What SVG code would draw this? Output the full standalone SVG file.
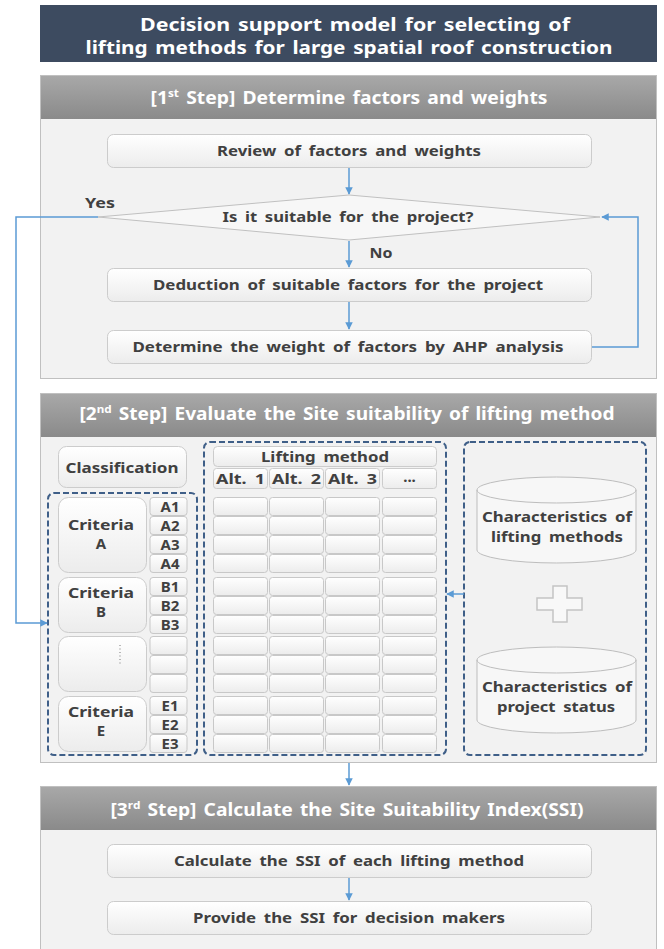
<svg xmlns="http://www.w3.org/2000/svg" xmlns:xlink="http://www.w3.org/1999/xlink" width="664" height="949" viewBox="0 0 664 949">
<defs>
  <linearGradient id="hdr" x1="0" y1="0" x2="0" y2="1">
    <stop offset="0" stop-color="#a8a8a8"/>
    <stop offset="1" stop-color="#8a8a8a"/>
  </linearGradient>
  <linearGradient id="box" x1="0" y1="0" x2="0" y2="1">
    <stop offset="0" stop-color="#ffffff"/>
    <stop offset="1" stop-color="#ececec"/>
  </linearGradient>
  <marker id="arr" viewBox="0 0 10 10" refX="9" refY="5" markerWidth="5" markerHeight="5" orient="auto">
    <path d="M0,0 L10,5 L0,10 z" fill="#5b9bd5"/>
  </marker>
  <rect id="c" width="54" height="18" rx="3" fill="url(#box)" stroke="#c8c8c8" stroke-width="1"/>
  <rect id="s" width="37" height="18" rx="3" fill="url(#box)" stroke="#c8c8c8" stroke-width="1"/>
</defs>
<style>
  text { font-family: "Noto Sans", "Open Sans", sans-serif; font-weight: bold; }
  .t { font-size: 15px; fill: #404040; text-anchor: middle; word-spacing: 3px; }
  .h { font-size: 18px; fill: #ffffff; text-anchor: middle; word-spacing: 2px; }
  .panel { fill: #f2f2f2; stroke: #c0c0c0; stroke-width: 1; }
  .hdr { fill: url(#hdr); }
  .bx { fill: url(#box); stroke: #cccccc; stroke-width: 1; }
  .dash { fill: none; stroke: #3f5f88; stroke-width: 2; stroke-dasharray: 6 3; }
  .conn { fill: none; stroke: #5b9bd5; stroke-width: 1.5; }
  .cyl { fill: #f7f7f7; stroke: #bdbdbd; stroke-width: 1; }
</style>
<rect width="664" height="949" fill="#ffffff"/>

<g id="title">
  <rect x="40" y="5" width="617" height="57" fill="#3d4b60"/>
  <text class="h" font-size="19.5" word-spacing="3"><tspan x="355" y="31" textLength="430" lengthAdjust="spacingAndGlyphs">Decision support model for selecting of</tspan><tspan x="349" y="54" textLength="527" lengthAdjust="spacingAndGlyphs">lifting methods for large spatial roof construction</tspan></text>
</g>

<g id="step1">
  <rect class="panel" x="40.5" y="75.5" width="616" height="303"/>
  <rect class="hdr" x="41" y="76" width="615" height="43"/>
  <text class="h" x="349" y="104" textLength="397" lengthAdjust="spacingAndGlyphs">[1<tspan font-size="11" dy="-7">st</tspan><tspan dy="7"> Step] Determine factors and weights</tspan></text>
</g>
<g id="review">
  <rect class="bx" x="107.5" y="134.5" width="484" height="33" rx="6"/>
  <text class="t" x="349" y="156" textLength="264" lengthAdjust="spacingAndGlyphs">Review of factors and weights</text>
</g>
<g id="decision">
  <polygon points="98,217 349,195 600,217 349,240" fill="#f7f7f7" stroke="#c0c0c0" stroke-width="1"/>
  <text class="t" x="348" y="222" textLength="251" lengthAdjust="spacingAndGlyphs">Is it suitable for the project?</text>
</g>
<g id="deduction">
  <rect class="bx" x="107.5" y="268.5" width="484" height="33" rx="6"/>
  <text class="t" x="348" y="290" textLength="390" lengthAdjust="spacingAndGlyphs">Deduction of suitable factors for the project</text>
</g>
<g id="determine">
  <rect class="bx" x="107.5" y="330.5" width="484" height="33" rx="6"/>
  <text class="t" x="348" y="352" textLength="431" lengthAdjust="spacingAndGlyphs">Determine the weight of factors by AHP analysis</text>
</g>

<g id="step2">
  <rect class="panel" x="40.5" y="393.5" width="616" height="369"/>
  <rect class="hdr" x="41" y="394" width="615" height="43"/>
  <text class="h" x="347" y="420" textLength="535" lengthAdjust="spacingAndGlyphs">[2<tspan font-size="11" dy="-7">nd</tspan><tspan dy="7"> Step] Evaluate the Site suitability of lifting method</tspan></text>
</g>
<g id="classification">
  <rect class="bx" x="58.5" y="446.5" width="128" height="41" rx="8"/>
  <text class="t" x="122" y="473" font-size="16" textLength="113" lengthAdjust="spacingAndGlyphs">Classification</text>
</g>
<g id="criteria">
  <rect class="dash" x="48" y="493" width="149" height="262" rx="6"/>
  <rect class="bx" x="58.5" y="497.5" width="88" height="75" rx="10"/>
  <text class="t" font-size="14"><tspan x="101" y="530" textLength="66" lengthAdjust="spacingAndGlyphs">Criteria</tspan><tspan x="101" y="549">A</tspan></text>
  <rect class="bx" x="58.5" y="577.5" width="88" height="55" rx="10"/>
  <text class="t" font-size="14"><tspan x="101" y="598" textLength="66" lengthAdjust="spacingAndGlyphs">Criteria</tspan><tspan x="101" y="617">B</tspan></text>
  <rect class="bx" x="58.5" y="636.5" width="88" height="55" rx="10"/>
  <line x1="120" y1="645" x2="120" y2="666" stroke="#777777" stroke-width="1" stroke-dasharray="1 2.5"/>
  <rect class="bx" x="58.5" y="696.5" width="88" height="55" rx="10"/>
  <text class="t" font-size="14"><tspan x="101" y="717" textLength="66" lengthAdjust="spacingAndGlyphs">Criteria</tspan><tspan x="101" y="736">E</tspan></text>
  <use xlink:href="#s" x="150" y="497.5"/><text class="t" x="170" y="512" font-size="14">A1</text>
  <use xlink:href="#s" x="150" y="516.5"/><text class="t" x="170" y="531" font-size="14">A2</text>
  <use xlink:href="#s" x="150" y="535.5"/><text class="t" x="170" y="550" font-size="14">A3</text>
  <use xlink:href="#s" x="150" y="554.5"/><text class="t" x="170" y="569" font-size="14">A4</text>
  <use xlink:href="#s" x="150" y="577.5"/><text class="t" x="170" y="592" font-size="14">B1</text>
  <use xlink:href="#s" x="150" y="596.5"/><text class="t" x="170" y="611" font-size="14">B2</text>
  <use xlink:href="#s" x="150" y="615.5"/><text class="t" x="170" y="630" font-size="14">B3</text>
  <use xlink:href="#s" x="150" y="636.5"/>
  <use xlink:href="#s" x="150" y="655.5"/>
  <use xlink:href="#s" x="150" y="674.5"/>
  <use xlink:href="#s" x="150" y="696.5"/><text class="t" x="170" y="711" font-size="14">E1</text>
  <use xlink:href="#s" x="150" y="715.5"/><text class="t" x="170" y="730" font-size="14">E2</text>
  <use xlink:href="#s" x="150" y="734.5"/><text class="t" x="170" y="749" font-size="14">E3</text>
</g>
<g id="lifting-method">
  <rect class="dash" x="204" y="442" width="242" height="313" rx="6"/>
  <rect class="bx" x="213.5" y="446.5" width="223" height="20" rx="4"/>
  <text class="t" x="325" y="462" textLength="128" lengthAdjust="spacingAndGlyphs">Lifting method</text>
  <rect class="bx" x="213.5" y="468.5" width="54" height="20" rx="3"/>
  <text class="t" x="240.5" y="484" font-size="14.5" word-spacing="1" textLength="49" lengthAdjust="spacingAndGlyphs">Alt. 1</text>
  <rect class="bx" x="269.5" y="468.5" width="54" height="20" rx="3"/>
  <text class="t" x="296.5" y="484" font-size="14.5" word-spacing="1" textLength="49" lengthAdjust="spacingAndGlyphs">Alt. 2</text>
  <rect class="bx" x="325.5" y="468.5" width="54" height="20" rx="3"/>
  <text class="t" x="352.5" y="484" font-size="14.5" word-spacing="1" textLength="49" lengthAdjust="spacingAndGlyphs">Alt. 3</text>
  <rect class="bx" x="382.5" y="468.5" width="54" height="20" rx="3"/>
  <text class="t" x="409.5" y="482" font-size="13">...</text>
  <g id="grid">
    <use xlink:href="#c" x="213.5" y="497.5"/><use xlink:href="#c" x="269.5" y="497.5"/><use xlink:href="#c" x="325.5" y="497.5"/><use xlink:href="#c" x="382.5" y="497.5"/>
    <use xlink:href="#c" x="213.5" y="516.5"/><use xlink:href="#c" x="269.5" y="516.5"/><use xlink:href="#c" x="325.5" y="516.5"/><use xlink:href="#c" x="382.5" y="516.5"/>
    <use xlink:href="#c" x="213.5" y="535.5"/><use xlink:href="#c" x="269.5" y="535.5"/><use xlink:href="#c" x="325.5" y="535.5"/><use xlink:href="#c" x="382.5" y="535.5"/>
    <use xlink:href="#c" x="213.5" y="554.5"/><use xlink:href="#c" x="269.5" y="554.5"/><use xlink:href="#c" x="325.5" y="554.5"/><use xlink:href="#c" x="382.5" y="554.5"/>
    <use xlink:href="#c" x="213.5" y="577.5"/><use xlink:href="#c" x="269.5" y="577.5"/><use xlink:href="#c" x="325.5" y="577.5"/><use xlink:href="#c" x="382.5" y="577.5"/>
    <use xlink:href="#c" x="213.5" y="596.5"/><use xlink:href="#c" x="269.5" y="596.5"/><use xlink:href="#c" x="325.5" y="596.5"/><use xlink:href="#c" x="382.5" y="596.5"/>
    <use xlink:href="#c" x="213.5" y="615.5"/><use xlink:href="#c" x="269.5" y="615.5"/><use xlink:href="#c" x="325.5" y="615.5"/><use xlink:href="#c" x="382.5" y="615.5"/>
    <use xlink:href="#c" x="213.5" y="636.5"/><use xlink:href="#c" x="269.5" y="636.5"/><use xlink:href="#c" x="325.5" y="636.5"/><use xlink:href="#c" x="382.5" y="636.5"/>
    <use xlink:href="#c" x="213.5" y="655.5"/><use xlink:href="#c" x="269.5" y="655.5"/><use xlink:href="#c" x="325.5" y="655.5"/><use xlink:href="#c" x="382.5" y="655.5"/>
    <use xlink:href="#c" x="213.5" y="674.5"/><use xlink:href="#c" x="269.5" y="674.5"/><use xlink:href="#c" x="325.5" y="674.5"/><use xlink:href="#c" x="382.5" y="674.5"/>
    <use xlink:href="#c" x="213.5" y="696.5"/><use xlink:href="#c" x="269.5" y="696.5"/><use xlink:href="#c" x="325.5" y="696.5"/><use xlink:href="#c" x="382.5" y="696.5"/>
    <use xlink:href="#c" x="213.5" y="715.5"/><use xlink:href="#c" x="269.5" y="715.5"/><use xlink:href="#c" x="325.5" y="715.5"/><use xlink:href="#c" x="382.5" y="715.5"/>
    <use xlink:href="#c" x="213.5" y="734.5"/><use xlink:href="#c" x="269.5" y="734.5"/><use xlink:href="#c" x="325.5" y="734.5"/><use xlink:href="#c" x="382.5" y="734.5"/>
  </g>
</g>
<g id="characteristics">
  <rect class="dash" x="464" y="442" width="182" height="313" rx="6"/>
  <path class="cyl" d="M477,490 A79.5,13 0 0 1 636,490 V550 A79.5,13 0 0 1 477,550 Z"/>
  <path d="M477,490 A79.5,13 0 0 0 636,490" fill="none" stroke="#bdbdbd" stroke-width="1"/>
  <text class="t" font-size="14.5"><tspan x="557" y="522" textLength="150" lengthAdjust="spacingAndGlyphs">Characteristics of</tspan><tspan x="557" y="542" textLength="132" lengthAdjust="spacingAndGlyphs">lifting methods</tspan></text>
  <path d="M553,586 H567 V598 H582 V610 H567 V622 H553 V610 H537 V598 H553 Z" fill="#f8f8f8" stroke="#c4c4c4" stroke-width="1.5"/>
  <path class="cyl" d="M477,660 A79.5,13 0 0 1 636,660 V720 A79.5,13 0 0 1 477,720 Z"/>
  <path d="M477,660 A79.5,13 0 0 0 636,660" fill="none" stroke="#bdbdbd" stroke-width="1"/>
  <text class="t" font-size="14.5"><tspan x="557" y="692" textLength="150" lengthAdjust="spacingAndGlyphs">Characteristics of</tspan><tspan x="556" y="712" textLength="118" lengthAdjust="spacingAndGlyphs">project status</tspan></text>
</g>

<g id="step3">
  <rect class="panel" x="40.5" y="786.5" width="616" height="170"/>
  <rect class="hdr" x="41" y="787" width="615" height="43"/>
  <text class="h" x="347" y="816" textLength="473" lengthAdjust="spacingAndGlyphs">[3<tspan font-size="11" dy="-7">rd</tspan><tspan dy="7"> Step] Calculate the Site Suitability Index(SSI)</tspan></text>
</g>
<g id="calculate">
  <rect class="bx" x="107.5" y="844.5" width="484" height="33" rx="6"/>
  <text class="t" x="349" y="866" textLength="350" lengthAdjust="spacingAndGlyphs">Calculate the SSI of each lifting method</text>
</g>
<g id="provide">
  <rect class="bx" x="107.5" y="901.5" width="484" height="33" rx="6"/>
  <text class="t" x="349" y="923" textLength="312" lengthAdjust="spacingAndGlyphs">Provide the SSI for decision makers</text>
</g>

<g id="connectors">
  <line class="conn" x1="349" y1="168" x2="349" y2="194" marker-end="url(#arr)"/>
  <line class="conn" x1="349" y1="241" x2="349" y2="267" marker-end="url(#arr)"/>
  <line class="conn" x1="349" y1="302" x2="349" y2="329" marker-end="url(#arr)"/>
  <path class="conn" d="M98,217 H16 V623 H47" marker-end="url(#arr)"/>
  <path class="conn" d="M592,347 H638 V217 H602" marker-end="url(#arr)"/>
  <line class="conn" x1="464" y1="594" x2="447" y2="594" marker-end="url(#arr)"/>
  <line class="conn" x1="349" y1="763" x2="349" y2="785" marker-end="url(#arr)"/>
  <line class="conn" x1="349" y1="878" x2="349" y2="900" marker-end="url(#arr)"/>
  <text x="100" y="208" font-size="15" fill="#404040" text-anchor="middle" textLength="30" lengthAdjust="spacingAndGlyphs">Yes</text>
  <text x="381" y="258" font-size="15" fill="#404040" text-anchor="middle" textLength="23" lengthAdjust="spacingAndGlyphs">No</text>
</g>
</svg>
